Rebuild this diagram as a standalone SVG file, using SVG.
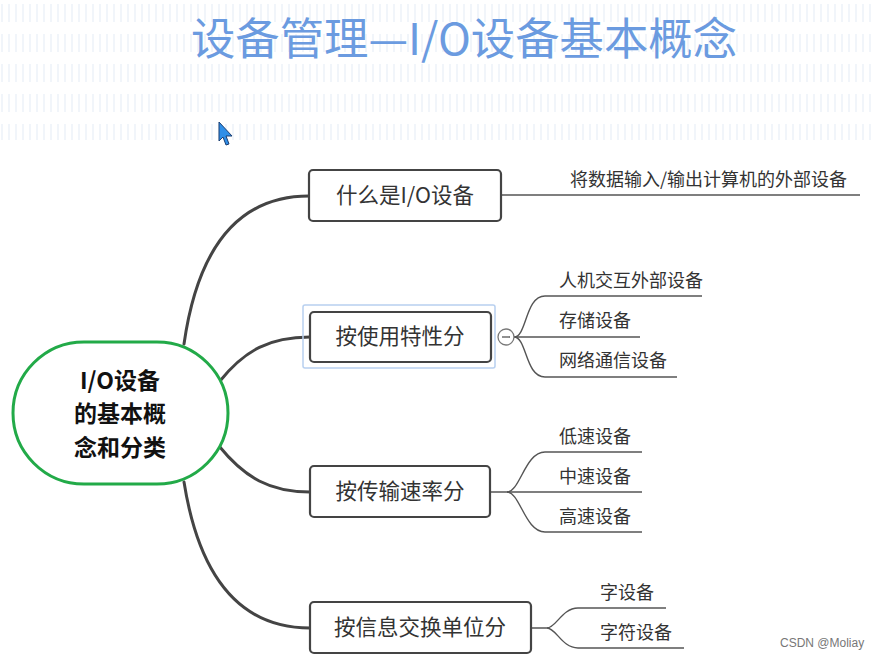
<svg xmlns="http://www.w3.org/2000/svg" width="873" height="660" viewBox="0 0 873 660">
  <defs>
    <pattern id="stripes" x="0" y="4" width="7" height="30" patternUnits="userSpaceOnUse">
      <rect x="1" y="0" width="2" height="18" fill="#edf2f9"/>
    </pattern>
    <style>
      .title { font-family: "Noto Sans CJK SC", "Liberation Sans", sans-serif; font-size: 44px; fill: #6b9be0; }
      .center { font-family: "Noto Sans CJK SC", "Liberation Sans", sans-serif; font-size: 23px; font-weight: bold; fill: #111; }
      .box { fill: #fff; stroke: #444; stroke-width: 2.2; }
      .boxtxt { font-family: "Noto Sans CJK SC", "Liberation Sans", sans-serif; font-size: 21.5px; fill: #333; }
      .leaf { font-family: "Noto Sans CJK SC", "Liberation Sans", sans-serif; font-size: 18px; fill: #333; }
      .main { fill: none; stroke: #444; stroke-width: 3; stroke-linecap: round; }
      .sub { fill: none; stroke: #555; stroke-width: 1.4; }
    </style>
  </defs>
  <rect width="873" height="660" fill="#fff"/>
  <rect x="0" y="0" width="873" height="140" fill="url(#stripes)" opacity="0.8"/>

  <text class="title" x="464" y="55" text-anchor="middle" textLength="546" lengthAdjust="spacingAndGlyphs">设备管理—I/O设备基本概念</text>

  <!-- cursor -->
  <path d="M219,122 L219,141 L223,137 L226,145 L229,144 L226,136 L232,136 Z" fill="#2f8fe8" stroke="#1b3f73" stroke-width="1"/>

  <g id="connectors">
    <path class="main" d="M184,344 C196,260 230,196 309,196"/>
    <path class="main" d="M220,381 C245,350 270,337 310,337"/>
    <path class="main" d="M219,446 C245,478 270,492 310,492"/>
    <path class="main" d="M184,482 C198,570 235,628 310,628"/>

    <path class="sub" d="M501,195 L860,195"/>

    <path class="sub" d="M514,337 C527,337 525,296 545,296 L702,296"/>
    <path class="sub" d="M514,337 L640,337"/>
    <path class="sub" d="M514,337 C527,337 525,377 545,377 L677,377"/>

    <path class="sub" d="M490,492 L507,492 C520,492 525,452 545,452 L642,452"/>
    <path class="sub" d="M507,492 L642,492"/>
    <path class="sub" d="M507,492 C520,492 525,532 545,532 L642,532"/>

    <path class="sub" d="M531,628 L547,628 C556,628 562,608 578,608 L666,608"/>
    <path class="sub" d="M547,628 C556,628 562,648 578,648 L684,648"/>
  </g>

  <g id="center-node">
    <rect x="13" y="342" width="215" height="142" rx="71" ry="71" fill="#fff" stroke="#22aa48" stroke-width="3"/>
    <text class="center" x="120" y="388.5" text-anchor="middle">I/O设备</text>
    <text class="center" x="120" y="422" text-anchor="middle">的基本概</text>
    <text class="center" x="120" y="455.5" text-anchor="middle">念和分类</text>
  </g>

  <g id="node-what">
    <rect class="box" x="309" y="170" width="192" height="51" rx="4"/>
    <text class="boxtxt" x="405" y="203" text-anchor="middle">什么是I/O设备</text>
  </g>
  <g id="leaf-what">
    <text class="leaf" x="570" y="186">将数据输入/输出计算机的外部设备</text>
  </g>

  <g id="node-use">
    <rect x="303" y="305" width="192" height="63" rx="2" fill="none" stroke="#b8d0f0" stroke-width="1.5"/>
    <rect class="box" x="310" y="312" width="181" height="50" rx="4"/>
    <text class="boxtxt" x="400" y="344" text-anchor="middle">按使用特性分</text>
    <circle cx="506" cy="337" r="8" fill="#fff" stroke="#777" stroke-width="1.3"/>
    <line x1="502" y1="337" x2="510" y2="337" stroke="#555" stroke-width="1.3"/>
  </g>
  <g id="leaf-use">
    <text class="leaf" x="559" y="287">人机交互外部设备</text>
    <text class="leaf" x="559" y="327">存储设备</text>
    <text class="leaf" x="559" y="367">网络通信设备</text>
  </g>

  <g id="node-speed">
    <rect class="box" x="310" y="466" width="180" height="51" rx="4"/>
    <text class="boxtxt" x="400" y="499" text-anchor="middle">按传输速率分</text>
  </g>
  <g id="leaf-speed">
    <text class="leaf" x="559" y="443">低速设备</text>
    <text class="leaf" x="559" y="483">中速设备</text>
    <text class="leaf" x="559" y="523">高速设备</text>
  </g>

  <g id="node-unit">
    <rect class="box" x="310" y="602" width="221" height="51" rx="4"/>
    <text class="boxtxt" x="420" y="635" text-anchor="middle">按信息交换单位分</text>
  </g>
  <g id="leaf-unit">
    <text class="leaf" x="600" y="599">字设备</text>
    <text class="leaf" x="600" y="639">字符设备</text>
  </g>

  <text x="780" y="647" font-family="Liberation Sans, sans-serif" font-size="12" fill="#777">CSDN @Moliay</text>
</svg>
